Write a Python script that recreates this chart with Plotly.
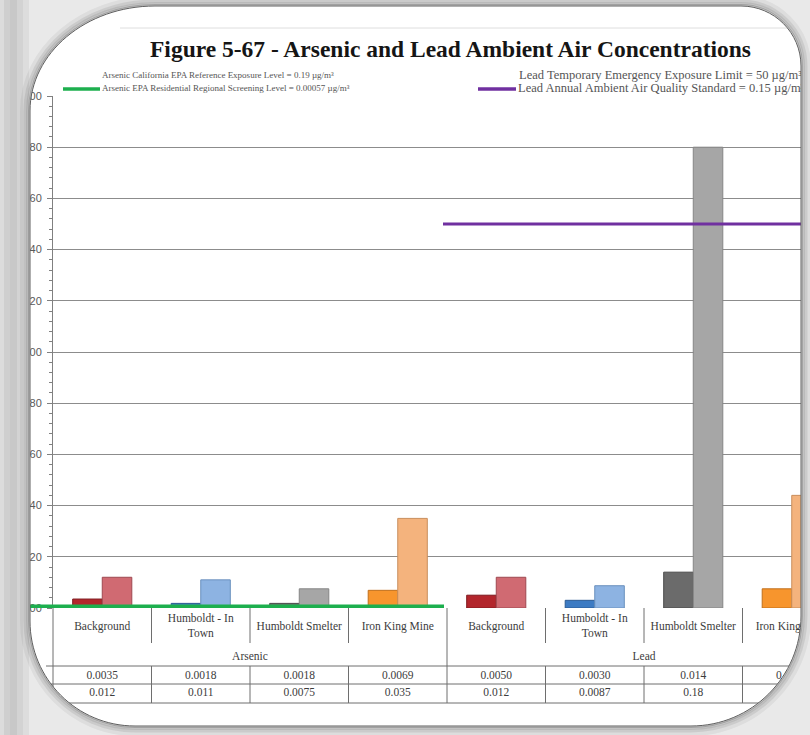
import plotly.graph_objects as go

W, H = 810, 735

# ---------------- data ----------------
pollutants = ["Arsenic", "Lead"]
sites = ["Background", "Humboldt - In<br>Town", "Humboldt Smelter", "Iron King Mine"]
arsenic_mean = [0.0035, 0.0018, 0.0018, 0.0069]
arsenic_max = [0.012, 0.011, 0.0075, 0.035]
lead_mean = [0.0050, 0.0030, 0.014, 0.0075]
lead_max = [0.012, 0.0087, 0.18, 0.044]

arsenic_rsl = 0.00057   # Arsenic EPA residential regional screening level
lead_naaqs = 0.15       # Lead annual ambient air quality standard

legend_left = [
    "Arsenic California EPA Reference Exposure Level = 0.19 µg/m³",
    "Arsenic EPA Residential Regional Screening Level = 0.00057 µg/m³",
]
legend_right = [
    "Lead Temporary Emergency Exposure Limit = 50 µg/m³",
    "Lead Annual Ambient Air Quality Standard = 0.15 µg/m³",
]

y_ticks = [0.0, 0.02, 0.04, 0.06, 0.08, 0.10, 0.12, 0.14, 0.16, 0.18, 0.20]
y_tick_labels = ["0.000", "0.020", "0.040", "0.060", "0.080", "0.100",
                 "0.120", "0.140", "0.160", "0.180", "0.200"]

mean_colors = ["#B3262C", "#3D7BC3", "#6B6B6B", "#F7952D"]
max_colors = ["#D06A72", "#8DB3E2", "#A6A6A6", "#F4B37D"]
mean_edges = ["#7E1A1F", "#2A5A92", "#4A4A4A", "#C06E1A"]
max_edges = ["#9E4850", "#6A90BE", "#858585", "#C98E5C"]

# ---------------- helpers (pixel -> paper) ----------------
def fx(px):
    return px / W


def fy(py):
    return 1 - py / H


K = 0.5523
FRAME_L, FRAME_T, FRAME_R, FRAME_B = 30, 6, 801, 726
PLOT_L, PLOT_T, PLOT_B = 53, 96, 608
CAT_W = 98.5          # width of one category slot on the page


def rounded_path(x0, y0, x1, y1, tl, tr, br, bl):
    """Clockwise rounded rectangle in paper coordinates; corner radii as (rx, ry)."""
    pts = []

    def P(x, y):
        return f"{fx(x):.5f},{fy(y):.5f}"

    pts.append(f"M{P(x0 + tl[0], y0)}")
    pts.append(f"L{P(x1 - tr[0], y0)}")
    pts.append(f"C{P(x1 - tr[0] + K * tr[0], y0)} {P(x1, y0 + tr[1] - K * tr[1])} {P(x1, y0 + tr[1])}")
    pts.append(f"L{P(x1, y1 - br[1])}")
    pts.append(f"C{P(x1, y1 - br[1] + K * br[1])} {P(x1 - br[0] + K * br[0], y1)} {P(x1 - br[0], y1)}")
    pts.append(f"L{P(x0 + bl[0], y1)}")
    pts.append(f"C{P(x0 + bl[0] - K * bl[0], y1)} {P(x0, y1 - bl[1] + K * bl[1])} {P(x0, y1 - bl[1])}")
    pts.append(f"L{P(x0, y0 + tl[1])}")
    pts.append(f"C{P(x0, y0 + tl[1] - K * tl[1])} {P(x0 + tl[0] - K * tl[0], y0)} {P(x0 + tl[0], y0)}")
    pts.append("Z")
    return " ".join(pts)


def frame(off=0.0):
    return rounded_path(FRAME_L - off, FRAME_T - off, FRAME_R + off, FRAME_B + off,
                        (125 + off, 105 + off), (60 + off, 60 + off),
                        (110 + off, 110 + off), (105 + off, 105 + off))


def sig2(v):
    return "{:#.2g}".format(v)


# ---------------- figure ----------------
fig = go.Figure()

idx = list(range(len(pollutants) * len(sites)))
mean_vals = arsenic_mean + lead_mean
max_vals = arsenic_max + lead_max

fig.add_trace(go.Bar(
    x=idx, y=mean_vals, name="Mean",
    marker=dict(color=mean_colors * 2, line=dict(color=mean_edges * 2, width=1)),
    showlegend=False, hoverinfo="skip",
))
fig.add_trace(go.Bar(
    x=idx, y=max_vals, name="Maximum",
    marker=dict(color=max_colors * 2, line=dict(color=max_edges * 2, width=1)),
    showlegend=False, hoverinfo="skip",
))

# data table below the bars (category row, group row, mean row, max row)
serif = "Liberation Serif, Times New Roman, serif"
table_font = dict(family=serif, size=11.5, color="#3c3c3c")
fig.add_trace(go.Scatter(
    x=idx, y=[627] * len(idx), text=sites * 2, mode="text",
    textfont=table_font, yaxis="y2", cliponaxis=True,
    showlegend=False, hoverinfo="skip",
))
fig.add_trace(go.Scatter(
    x=[1.5, 5.5], y=[657, 657], text=pollutants, mode="text",
    textfont=table_font, yaxis="y2", cliponaxis=True,
    showlegend=False, hoverinfo="skip",
))
fig.add_trace(go.Scatter(
    x=idx, y=[676] * len(idx), text=[sig2(v) for v in mean_vals], mode="text",
    textfont=table_font, yaxis="y2", cliponaxis=True,
    showlegend=False, hoverinfo="skip",
))
fig.add_trace(go.Scatter(
    x=idx, y=[693] * len(idx), text=[sig2(v) for v in max_vals], mode="text",
    textfont=table_font, yaxis="y2", cliponaxis=True,
    showlegend=False, hoverinfo="skip",
))

# legend labels (drawn on a page-sized overlay axis so the frame trims them)
leg_font_l = dict(family=serif, size=9, color="#555555")
leg_font_r = dict(family=serif, size=12.5, color="#555555")
fig.add_trace(go.Scatter(
    x=[102, 102], y=[76, 89], text=legend_left, mode="text",
    textposition="middle right", textfont=leg_font_l,
    xaxis="x3", yaxis="y3", cliponaxis=True, showlegend=False, hoverinfo="skip",
))
fig.add_trace(go.Scatter(
    x=[519, 518], y=[76, 89], text=legend_right, mode="text",
    textposition="middle right", textfont=leg_font_r,
    xaxis="x3", yaxis="y3", cliponaxis=True, showlegend=False, hoverinfo="skip",
))

shapes = []

# white page inside the frame
shapes.append(dict(type="path", xref="paper", yref="paper", layer="below",
                   path=frame(0), fillcolor="white", line=dict(width=0)))

# reference levels
shapes.append(dict(type="line", xref="paper", yref="y", x0=fx(10), x1=fx(444),
                   y0=arsenic_rsl, y1=arsenic_rsl, line=dict(color="#1DAF4E", width=4)))
shapes.append(dict(type="line", xref="paper", yref="y", x0=fx(443), x1=fx(FRAME_R),
                   y0=lead_naaqs, y1=lead_naaqs, line=dict(color="#7030A0", width=3)))

# legend keys
shapes.append(dict(type="line", xref="paper", yref="paper", x0=fx(63), x1=fx(100),
                   y0=fy(89), y1=fy(89), line=dict(color="#1DAF4E", width=3.5)))
shapes.append(dict(type="line", xref="paper", yref="paper", x0=fx(478), x1=fx(516),
                   y0=fy(89), y1=fy(89), line=dict(color="#7030A0", width=3.5)))

# table grid
tcol = "#6e6e6e"
for yy in (666, 684, 703):
    shapes.append(dict(type="line", xref="paper", yref="paper", x0=fx(46), x1=fx(FRAME_R),
                       y0=fy(yy), y1=fy(yy), line=dict(color=tcol, width=1)))
shapes.append(dict(type="line", xref="paper", yref="paper", x0=fx(PLOT_L), x1=fx(PLOT_L),
                   y0=fy(PLOT_B), y1=fy(703), line=dict(color=tcol, width=1)))
for b in [i + 0.5 for i in range(len(idx) - 1)]:
    if b == len(sites) - 0.5:
        shapes.append(dict(type="line", xref="x", yref="paper", x0=b, x1=b,
                           y0=fy(PLOT_B), y1=fy(703), line=dict(color=tcol, width=1)))
    else:
        shapes.append(dict(type="line", xref="x", yref="paper", x0=b, x1=b,
                           y0=fy(PLOT_B), y1=fy(643), line=dict(color=tcol, width=1)))
        shapes.append(dict(type="line", xref="x", yref="paper", x0=b, x1=b,
                           y0=fy(666), y1=fy(703), line=dict(color=tcol, width=1)))

# faint rule above the title
shapes.append(dict(type="line", xref="paper", yref="paper", x0=fx(120), x1=fx(792),
                   y0=fy(28), y1=fy(28), line=dict(color="#dedede", width=1)))

# page surround: everything outside the rounded frame
outer = f"M{fx(-5)},{fy(-5)} L{fx(-5)},{fy(740)} L{fx(815)},{fy(740)} L{fx(815)},{fy(-5)} Z "
shapes.append(dict(type="path", xref="paper", yref="paper", layer="above",
                   path=outer + frame(0), fillcolor="#e9e9e9", fillrule="evenodd",
                   line=dict(width=0)))

# gray strip on the left edge
for xa, xb, col in [(0, 4, "#dcdcdc"), (4, 10, "#cfcfcf"), (10, 17, "#c8c8c8"),
                    (17, 23, "#d3d3d3"), (23, 29, "#dddddd")]:
    shapes.append(dict(type="rect", xref="paper", yref="paper", layer="above",
                       x0=fx(xa), x1=fx(xb), y0=fy(0), y1=fy(735),
                       fillcolor=col, line=dict(width=0)))

# soft shadow around the frame
for off, a, w in [(7, 0.05, 6), (4.5, 0.08, 4), (2.5, 0.13, 3), (1.2, 0.2, 1.5)]:
    shapes.append(dict(type="path", xref="paper", yref="paper", layer="above",
                       path=frame(off), line=dict(color=f"rgba(0,0,0,{a})", width=w)))
shapes.append(dict(type="path", xref="paper", yref="paper", layer="above",
                   path=frame(0), line=dict(color="#5e5e5e", width=1)))

x_end = -0.5 + (FRAME_R - PLOT_L) / CAT_W

fig.update_layout(
    width=W, height=H,
    margin=dict(l=0, r=0, t=0, b=0, pad=0, autoexpand=False),
    paper_bgcolor="#e9e9e9",
    plot_bgcolor="rgba(0,0,0,0)",
    barmode="group", bargap=0.4, bargroupgap=0,
    showlegend=False,
    shapes=shapes,
    xaxis=dict(domain=[fx(PLOT_L), fx(FRAME_R)], range=[-0.5, x_end],
               showticklabels=False, showgrid=False, zeroline=False,
               showline=False, ticks="", fixedrange=True),
    yaxis=dict(domain=[fy(PLOT_B), fy(PLOT_T)], range=[0, 0.2], tickvals=y_ticks,
               ticktext=y_tick_labels, ticks="outside", ticklen=5, tickcolor="#808080",
               showline=True, linecolor="#808080", linewidth=1,
               showgrid=True, gridcolor="#8c8c8c", gridwidth=1, zeroline=False,
               tickfont=dict(family="Liberation Sans, Arial, sans-serif", size=11,
                             color="#5a5a5a"),
               ticklabelstandoff=3,
               minor=dict(dtick=0.004, tick0=0, ticks="outside", ticklen=3,
                          tickcolor="#808080", showgrid=False),
               fixedrange=True),
    yaxis2=dict(domain=[0, fy(PLOT_B)], range=[H, PLOT_B], visible=False,
                anchor="x", fixedrange=True),
    xaxis3=dict(domain=[0, fx(FRAME_R)], range=[0, FRAME_R], visible=False,
                anchor="y3", fixedrange=True),
    yaxis3=dict(domain=[0, 1], range=[H, 0], visible=False, anchor="x3",
                fixedrange=True),
    annotations=[dict(
        text="<b>Figure 5-67 - Arsenic and Lead Ambient Air Concentrations</b>",
        xref="paper", yref="paper", x=fx(450), y=fy(49),
        xanchor="center", yanchor="middle", showarrow=False,
        font=dict(family=serif, size=23.5, color="#151515"),
    )],
)

fig.write_html("out.html")
